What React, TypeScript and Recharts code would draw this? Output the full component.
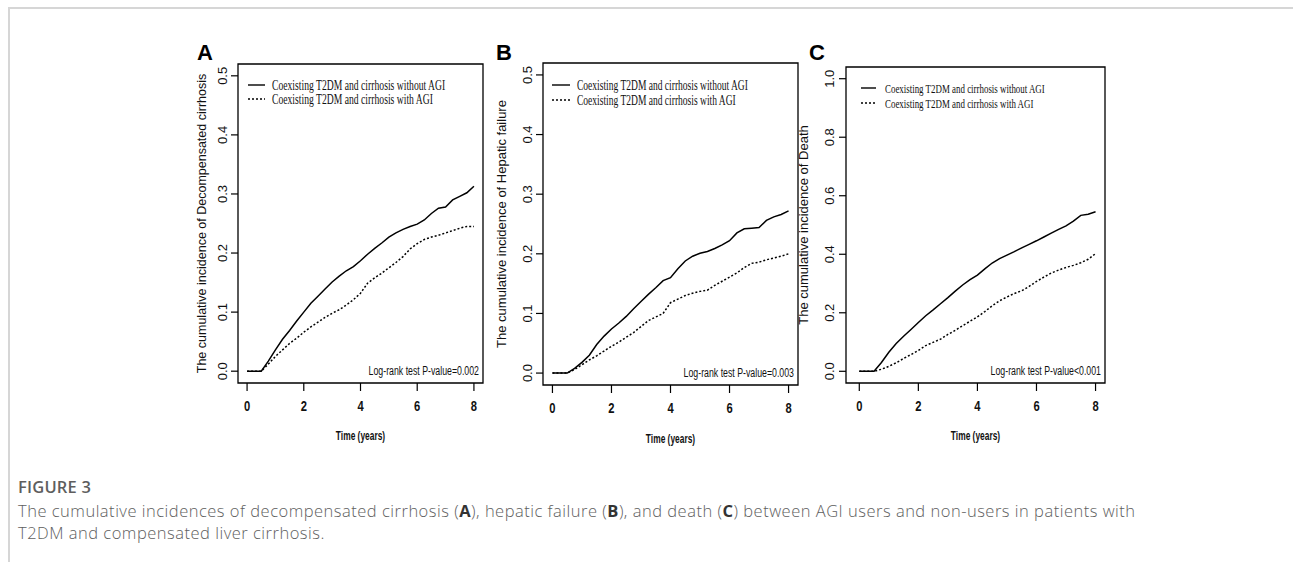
import React from 'react';
import { LineChart, Line, XAxis, YAxis, ReferenceArea, Legend } from 'recharts';

// ---------- data ----------
const timeYears = [0, 0.25, 0.5, 0.75, 1, 1.25, 1.5, 1.75, 2, 2.25, 2.5, 2.75, 3, 3.25, 3.5, 3.75, 4, 4.25, 4.5, 4.75, 5, 5.25, 5.5, 5.75, 6, 6.25, 6.5, 6.75, 7, 7.25, 7.5, 7.75, 8];

const decompWithoutAGI = [0, 0, 0, 0.017, 0.036, 0.054, 0.069, 0.085, 0.1, 0.115, 0.127, 0.139, 0.151, 0.161, 0.17, 0.177, 0.187, 0.198, 0.208, 0.217, 0.227, 0.234, 0.24, 0.245, 0.249, 0.256, 0.267, 0.276, 0.278, 0.29, 0.296, 0.302, 0.313];
const decompWithAGI = [0, 0, 0, 0.012, 0.025, 0.036, 0.047, 0.056, 0.066, 0.075, 0.083, 0.091, 0.098, 0.104, 0.112, 0.121, 0.132, 0.149, 0.158, 0.166, 0.175, 0.184, 0.194, 0.207, 0.216, 0.223, 0.227, 0.23, 0.234, 0.238, 0.242, 0.245, 0.245];

const hepaticWithoutAGI = [0, 0, 0, 0.008, 0.018, 0.03, 0.048, 0.062, 0.074, 0.084, 0.095, 0.108, 0.12, 0.132, 0.143, 0.155, 0.16, 0.175, 0.188, 0.196, 0.201, 0.204, 0.209, 0.215, 0.222, 0.235, 0.242, 0.243, 0.244, 0.256, 0.262, 0.266, 0.272];
const hepaticWithAGI = [0, 0, 0, 0.006, 0.014, 0.022, 0.029, 0.037, 0.045, 0.052, 0.06, 0.068, 0.078, 0.088, 0.094, 0.1, 0.118, 0.124, 0.13, 0.134, 0.137, 0.139, 0.147, 0.154, 0.161, 0.168, 0.177, 0.184, 0.186, 0.19, 0.193, 0.196, 0.2];

const deathWithoutAGI = [0, 0, 0, 0.03, 0.065, 0.095, 0.12, 0.143, 0.167, 0.19, 0.21, 0.231, 0.252, 0.274, 0.295, 0.313, 0.329, 0.35, 0.37, 0.385, 0.397, 0.409, 0.422, 0.434, 0.446, 0.459, 0.472, 0.485, 0.497, 0.513, 0.533, 0.537, 0.545];
const deathWithAGI = [0, 0, 0, 0.007, 0.017, 0.029, 0.044, 0.057, 0.071, 0.088, 0.099, 0.11, 0.126, 0.14, 0.156, 0.171, 0.186, 0.204, 0.224, 0.241, 0.254, 0.266, 0.275, 0.29, 0.307, 0.322, 0.336, 0.346, 0.355, 0.362, 0.371, 0.383, 0.402];

const xTicks = [0, 2, 4, 6, 8];
const yTicksAB = [0, 0.1, 0.2, 0.3, 0.4, 0.5];
const yTicksC = [0, 0.2, 0.4, 0.6, 0.8, 1.0];

const seriesKeys = ['without', 'with'];
const seriesNames = ['Coexisting T2DM and cirrhosis without AGI', 'Coexisting T2DM and cirrhosis with AGI'];
const panelLetters = ['A', 'B', 'C'];
const yTitles = [
  'The cumulative incidence of Decompensated cirrhosis',
  'The cumulative incidence of Hepatic failure',
  'The cumulative incidence of Death',
];
const pValueLabels = ['Log-rank test P-value=0.002', 'Log-rank test P-value=0.003', 'Log-rank test P-value<0.001'];
const xTitle = 'Time (years)';

// ---------- layout / styles ----------
const SANS = "'Liberation Sans', Arial, Helvetica, sans-serif";
const SERIF = "'Liberation Serif', 'Times New Roman', serif";

const buildRows = (a: number[], b: number[]) => timeYears.map((t, i) => ({ t, without: a[i], with: b[i] }));

const panels = [
  {
    data: buildRows(decompWithoutAGI, decompWithAGI),
    box: { l: 238, t: 64, r: 483, b: 383 },
    xDomain: [-0.32, 8.32], yDomain: [-0.02, 0.52], yTicks: yTicksAB,
    yTitleOff: 32, yTickOff: 10.5, xTitleOff: 57, yTitleFs: 12.5,
    legend: { lineX0: 10, lineX1: 27, textX: 34, row0: 21, gap: 14, sx: 0.69, fs: 14 },
    letterX: 197,
  },
  {
    data: buildRows(hepaticWithoutAGI, hepaticWithAGI),
    box: { l: 543, t: 63, r: 798, b: 385 },
    xDomain: [-0.32, 8.32], yDomain: [-0.02, 0.52], yTicks: yTicksAB,
    yTitleOff: 37, yTickOff: 10.5, xTitleOff: 58, yTitleFs: 13,
    legend: { lineX0: 9, lineX1: 27, textX: 34, row0: 22, gap: 15, sx: 0.68, fs: 14 },
    letterX: 496,
  },
  {
    data: buildRows(deathWithoutAGI, deathWithAGI),
    box: { l: 846, t: 67, r: 1105, b: 383 },
    xDomain: [-0.45, 8.32], yDomain: [-0.04, 1.04], yTicks: yTicksC,
    yTitleOff: 38.5, yTickOff: 11.5, xTitleOff: 57, yTitleFs: 13,
    legend: { lineX0: 15, lineX1: 30, textX: 39, row0: 21, gap: 15, sx: 0.66, fs: 13.5 },
    letterX: 809,
  },
];

const CHART_TOP = 20;
const CHART_H = 480;
const Y_W = 60;
const X_H = 80;
const LEFT_PAD = 110;

// horizontally condensed text (the reference figure is squeezed horizontally)
function Squeezed({ x, y, sx, anchor = 'start', children, ...rest }: any) {
  return (
    <text transform={`translate(${x} ${y}) scale(${sx} 1)`} x={0} y={0} textAnchor={anchor} {...rest}>{children}</text>
  );
}

function Panel({ cfg, idx }: { cfg: any; idx: number }) {
  const L = cfg.box.l - LEFT_PAD;
  const W = cfg.box.r - L + 12;
  const margin = {
    left: LEFT_PAD - Y_W,
    top: cfg.box.t - CHART_TOP,
    right: 12,
    bottom: CHART_TOP + CHART_H - cfg.box.b - X_H,
  };
  const fmt = (v: number) => v.toFixed(1);
  const lg = cfg.legend;

  const renderXTick = (p: any) => (
    <g>
      <line x1={p.x} x2={p.x} y1={p.y} y2={p.y + 8} stroke="#000" strokeWidth={1.2} />
      <Squeezed x={p.x} y={p.y + 28} sx={0.8} anchor="middle" fontFamily={SANS} fontWeight="bold" fontSize={14}
        fill="#111">{p.payload.value}</Squeezed>
    </g>
  );
  const renderYTick = (p: any) => {
    const tx = p.x - cfg.yTickOff;
    return (
      <g>
        <line x1={p.x - 7} x2={p.x} y1={p.y} y2={p.y} stroke="#000" strokeWidth={1.2} />
        <text x={tx} y={p.y} transform={`rotate(-90 ${tx} ${p.y})`} textAnchor="middle" fontFamily={SANS}
          fontSize={13} fill="#111">{fmt(p.payload.value)}</text>
      </g>
    );
  };
  const renderXTitle = (p: any) => {
    const vb = p.viewBox;
    return (
      <Squeezed x={vb.x + vb.width / 2} y={vb.y + cfg.xTitleOff} sx={0.7} anchor="middle" fontFamily={SANS}
        fontWeight="bold" fontSize={12} fill="#111">{xTitle}</Squeezed>
    );
  };
  const renderYTitle = (p: any) => {
    const vb = p.viewBox;
    const tx = vb.x + vb.width - cfg.yTitleOff;
    const ty = vb.y + vb.height / 2;
    return (
      <text x={tx} y={ty} transform={`rotate(-90 ${tx} ${ty})`} textAnchor="middle" fontFamily={SANS}
        fontSize={cfg.yTitleFs} fill="#111">{yTitles[idx]}</text>
    );
  };
  const renderPValue = (p: any) => {
    const vb = p.viewBox;
    return (
      <Squeezed x={vb.x + vb.width - 4} y={vb.y + vb.height - 8} sx={0.65} anchor="end" fontFamily={SANS}
        fontSize={13.5} fill="#111">{pValueLabels[idx]}</Squeezed>
    );
  };
  const renderLegend = (p: any) => {
    const items = [...(p.payload || [])].sort(
      (a: any, b: any) => seriesKeys.indexOf(a.dataKey) - seriesKeys.indexOf(b.dataKey));
    return (
      <svg width={220} height={40} style={{ overflow: 'visible', display: 'block' }}>
        {items.map((e: any, i: number) => {
          const cy = 7 + i * lg.gap;
          const dashed = e.dataKey === 'with';
          return (
            <g key={i}>
              <line x1={lg.lineX0} x2={lg.lineX1} y1={cy} y2={cy} stroke="#000" strokeWidth={1.4}
                strokeDasharray={dashed ? '2 2' : undefined} />
              <Squeezed x={lg.textX} y={cy + 4.6} sx={lg.sx} fontFamily={SERIF} fontSize={lg.fs}
                fill="#111">{e.value}</Squeezed>
            </g>
          );
        })}
      </svg>
    );
  };

  return (
    <div style={{ position: 'absolute', left: L, top: CHART_TOP, width: W, height: CHART_H }}>
      <LineChart width={W} height={CHART_H} data={cfg.data} margin={margin}>
        <XAxis type="number" dataKey="t" domain={cfg.xDomain} ticks={xTicks} allowDataOverflow interval={0}
          axisLine={false} tickLine={false} tickSize={0} tickMargin={0} height={X_H} tick={renderXTick}
          label={renderXTitle} />
        <YAxis type="number" domain={cfg.yDomain} ticks={cfg.yTicks} allowDataOverflow interval={0} width={Y_W}
          axisLine={false} tickLine={false} tickSize={0} tickMargin={0} tick={renderYTick} label={renderYTitle} />
        <ReferenceArea x1={cfg.xDomain[0]} x2={cfg.xDomain[1]} y1={cfg.yDomain[0]} y2={cfg.yDomain[1]}
          fill="none" fillOpacity={0} stroke="#000" strokeWidth={1.3} ifOverflow="visible" label={renderPValue} />
        <Line type="linear" dataKey="without" name={seriesNames[0]} stroke="#000" strokeWidth={1.5} dot={false}
          activeDot={false} isAnimationActive={false} />
        <Line type="linear" dataKey="with" name={seriesNames[1]} stroke="#000" strokeWidth={1.5}
          strokeDasharray="2 2" dot={false} activeDot={false} isAnimationActive={false} />
        <Legend layout="vertical" align="center" verticalAlign="middle" content={renderLegend}
          wrapperStyle={{ left: LEFT_PAD, top: cfg.box.t - CHART_TOP + lg.row0 - 7, width: 220, height: 40 }} />
      </LineChart>
    </div>
  );
}

export default function App() {
  const bold = { color: '#333', fontWeight: 700 };
  return (
    <div style={{ position: 'absolute', left: 0, top: 0, width: 1293, height: 562, overflow: 'hidden', background: '#fff' }}>
      <div style={{ position: 'absolute', left: 8, top: 7, right: 0, bottom: 0, borderTop: '2px solid #d6d6d6', borderLeft: '2px solid #d6d6d6' }} />
      {panels.map((cfg, i) => <Panel key={i} cfg={cfg} idx={i} />)}
      <svg width={1293} height={80} style={{ position: 'absolute', left: 0, top: 0 }}>
        {panels.map((cfg, i) => (
          <text key={i} x={cfg.letterX} y={60} fontFamily={SANS} fontWeight="bold" fontSize={22} fill="#000">{panelLetters[i]}</text>
        ))}
      </svg>
      <div style={{ position: 'absolute', left: 18, top: 476, fontFamily: "'Open Sans', sans-serif", color: '#5e5e5e', whiteSpace: 'nowrap' }}>
        <div style={{ fontSize: 16.5, fontWeight: 600, lineHeight: '22px', marginBottom: 2, letterSpacing: 0.2 }}>FIGURE 3</div>
        <div style={{ fontSize: 16.5, fontWeight: 300, lineHeight: '22px', letterSpacing: 0.5 }}>
          The cumulative incidences of decompensated cirrhosis (<span style={bold}>A</span>), hepatic failure (<span style={bold}>B</span>), and death (<span style={bold}>C</span>) between AGI users and non-users in patients with
          <br />
          T2DM and compensated liver cirrhosis.
        </div>
      </div>
    </div>
  );
}
